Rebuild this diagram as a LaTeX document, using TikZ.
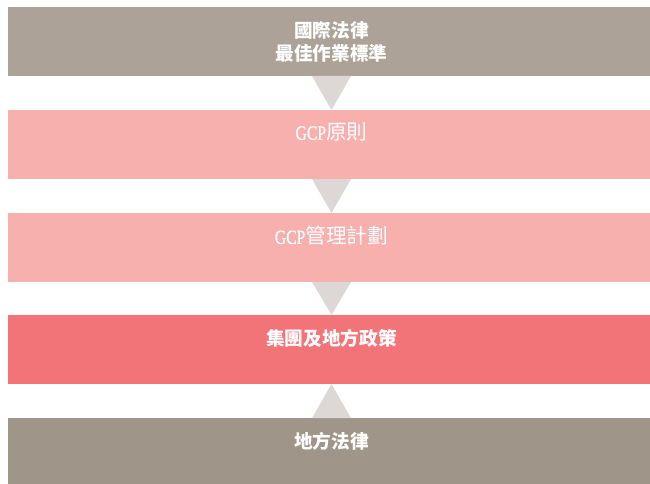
\documentclass[tikz,border=0pt]{standalone}
\usepackage{fontspec}
\setmainfont{Liberation Serif}
\newfontfamily\cjk[Scale=1.13]{Noto Sans CJK TC}
\newfontfamily\gcpfont[Scale=1.1,FakeStretch=0.78,FakeBold=0.6]{Liberation Serif}
\usetikzlibrary{calc}
\definecolor{taupeA}{HTML}{ADA297}
\definecolor{taupeB}{HTML}{A09589}
\definecolor{pinkL}{HTML}{F7B0AE}
\definecolor{pinkD}{HTML}{F27479}
\definecolor{triG}{HTML}{DDD8D5}
\begin{document}
\begin{tikzpicture}[x=1pt,y=1pt,
  band/.style={draw=none,fill=#1,minimum width=647pt,minimum height=69pt,anchor=north west,inner sep=0pt,outer sep=0pt},
  label/.style={text=white,font=\fontsize{16.5}{23}\selectfont,align=center,inner sep=0pt},
  gcplabel/.style={text=white,font=\fontsize{18.3}{23}\selectfont,align=center,inner sep=0pt},
  tri/.style={fill=triG,draw=none}]
\useasboundingbox (0,0) rectangle (650,-484);
\fill[white] (0,0) rectangle (650,-484);
\node[band=taupeA] (b1) at (8,-7) {};
\node[band=pinkL] (b2) at (8,-110) {};
\node[band=pinkL] (b3) at (8,-213) {};
\node[band=pinkD] (b4) at (8,-315) {};
\node[band=taupeB,minimum height=70pt] (b5) at (8,-418) {};
\node[label] (t1) at (331.5,-41.5) {{\cjk\bfseries 國際法律}\\{\cjk\bfseries 最佳作業標準}};
\node[gcplabel] (t2) at (331.5,-132) {{\gcpfont GCP}{\cjk 原則}};
\node[gcplabel] (t3) at (331.5,-236) {{\gcpfont GCP}{\cjk 管理計劃}};
\node[label] (t4) at (331.5,-338) {\cjk\bfseries 集團及地方政策};
\node[label] (t5) at (331.5,-441) {\cjk\bfseries 地方法律};
% triangles
\fill[tri] ($(b1.south west)+(304,0)$) -- ($(b1.south west)+(343,0)$) -- ($(b2.north west)+(323.5,0)$) -- cycle;
\fill[tri] ($(b2.south west)+(304,0)$) -- ($(b2.south west)+(343,0)$) -- ($(b3.north west)+(323.5,0)$) -- cycle;
\fill[tri] ($(b3.south west)+(304,0)$) -- ($(b3.south west)+(343,0)$) -- ($(b4.north west)+(323.5,0)$) -- cycle;
\fill[tri] ($(b5.north west)+(304,0)$) -- ($(b5.north west)+(343,0)$) -- ($(b4.south west)+(323.5,0)$) -- cycle;
\end{tikzpicture}
\end{document}
